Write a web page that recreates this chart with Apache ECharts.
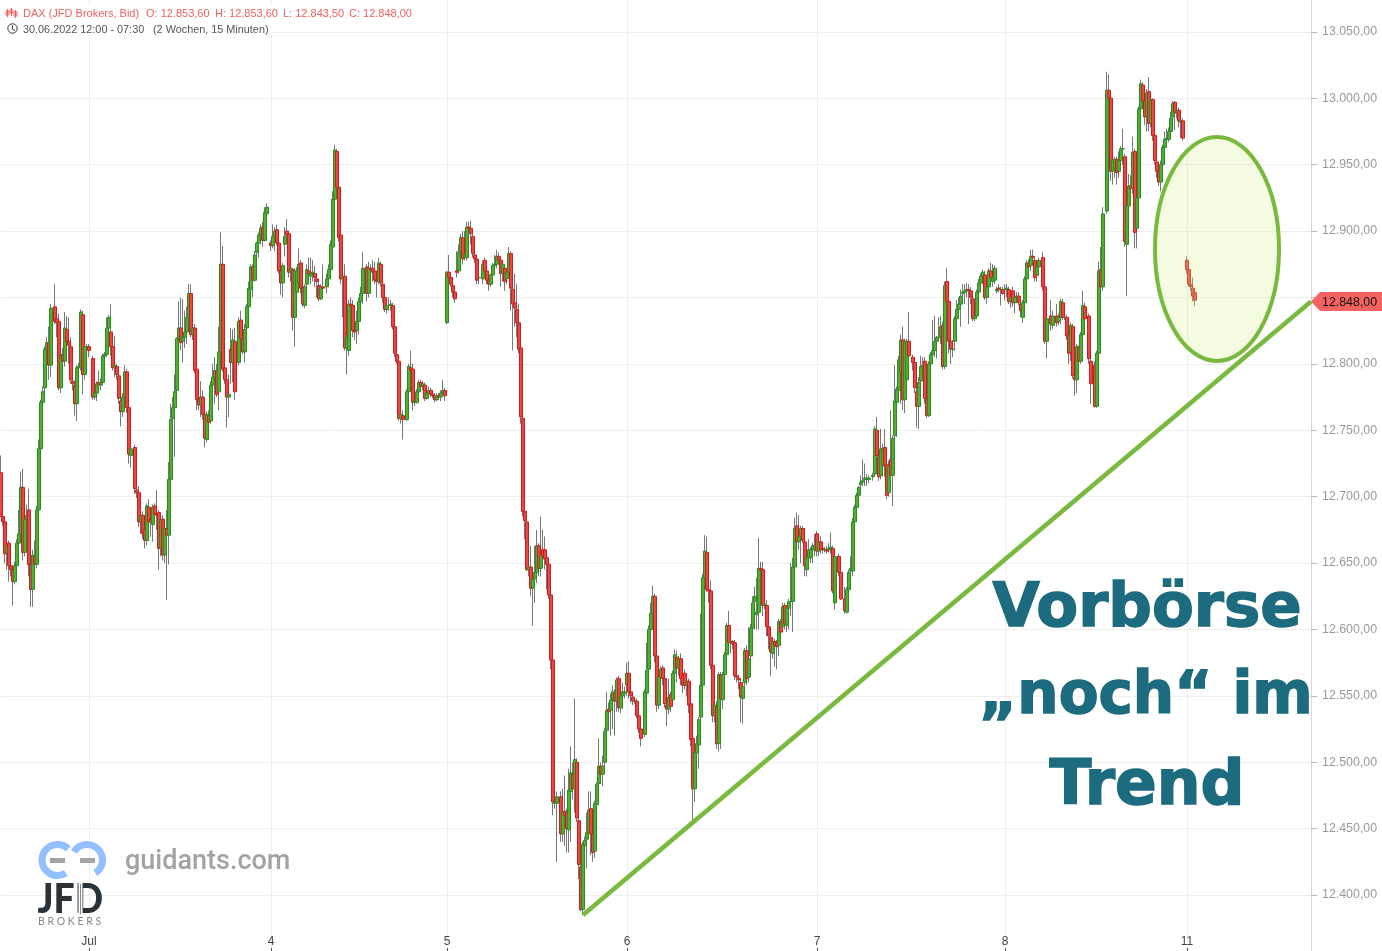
<!DOCTYPE html>
<html><head><meta charset="utf-8">
<style>html,body{margin:0;padding:0;background:#fff;overflow:hidden}#c{width:1382px;height:951px}</style>
<script src="https://cdn.jsdelivr.net/npm/echarts@6/dist/echarts.min.js"></script>
</head><body><div id="c"></div>
<script>
// Candle rows are [open, close, low, high], in points above basePrice.
const basePrice = 12000;
const slotCount = 656;
const dayTicks = {44:'Jul',135:'4',223:'5',313:'6',408:'7',502:'8',593:'11'};
const yTickMin = 12350, yTickMax = 13100, yTickStep = 50;
const lastClose = '12.848,00';
const trendLine = [[291,12385],[655,12847]];

const jun30Jul1 = [[718,685,685,731],[685,681,678,690],[681,657,650,684],[657,663,645,665],[665,648,636,667],[648,645,640,650],[645,636,618,647],[636,648,634,651],[648,665,640,668],[665,672,660,690],[672,707,668,719],[707,658,652,721],[658,683,655,690],[683,686,670,694],[690,649,640,706],[649,630,617,652],[630,656,617,660],[655,649,640,667],[649,690,646,693],[690,736,688,743],[736,771,715,773],[771,779,767,783],[782,811,778,813],[811,816,800,820],[816,799,788,828],[799,842,790,845],null,[843,832,830,860],[834,831,820,842],[832,782,780,838],[782,807,778,809],[807,802,800,812],[802,827,798,839],[826,817,812,836],[817,814,800,835],[813,788,785,820],[787,785,780,792],[784,770,761,787],[770,797,757,799],[797,798,790,801],[797,839,795,841],[837,792,777,840],[792,813,788,816],[813,813,808,815],[813,810,805,815],null,[804,775,773,806],[775,778,773,783],[778,785,772,787],[786,784,782,795],[784,786,780,789],[786,806,784,808],[806,807,800,809],[807,827,805,835],[827,835,825,837],[824,813,806,845],[813,797,795,822],[797,799,790,821],[798,792,788,800],[791,774,770,793],[772,764,753,774],[764,775,760,778],[775,794,772,799],[794,767,763,796],[767,732,725,770],[731,736,722,740],null,[737,706,702,739],[705,703,699,714],[703,681,677,708],[681,686,672,688],[686,672,668,689],[675,667,661,677],[667,693,663,695],[692,681,675,698],[683,681,670,690],[679,692,666,694],[693,687,680,695],[687,686,675,705],[688,661,645,690],[661,683,655,685],[683,656,652,686],[656,676,650,678],[676,671,622,690],[671,713,649,726],[713,758,680,770],[759,767,730,775],[767,779,730,792],[780,819,778,820],[819,827,815,847],[827,816,810,850],[817,820,801,849],[820,824,812,840],[824,835,815,843],[835,853,830,860],[853,822,820,860],[822,827,818,840],[827,795,793,830],[796,773,765,798],[773,769,765,777],[769,775,760,787],[775,762,758,780],[762,744,737,765],[743,762,741,764],[761,756,750,765],[757,784,755,787],[784,790,780,800],[790,795,770,805],[795,777,775,800],[779,809,765,828],[809,875,808,899],[875,796,794,889],[797,788,785,800],[788,775,752,790],[775,777,760,792],[775,808,772,810]];

const jul1Late = [[811,801,785,827],[801,818,786,826],[817,779,773,827],null,[801,832,799,835],[833,819,812,840],[819,809,807,829],[809,826,801,830],[827,843,825,845],[843,857,840,862],[856,873,850,875],[873,863,850,875],[863,882,862,885],[884,891,880,892],[891,897,880,899],[897,902,890,905],[903,893,888,907],[893,914,892,918],[913,918,893,921]];

const jul4 = [[891,889,885,893],[889,896,887,905],[896,900,885,903],[901,891,889,905],[891,870,868,893],[870,861,852,873],[861,874,850,876],[890,896,881,903],[900,897,893,909],[898,869,865,900],[869,872,862,875],[871,835,825,872],[835,870,813,872],[854,870,848,873],[861,875,855,887],[876,857,853,878],[858,845,843,860],[844,858,842,860],[860,871,855,875],[870,868,862,880],[866,868,860,880],[868,869,862,878],[868,865,858,874],[864,862,850,868],[859,849,847,862],[849,858,848,860],[858,857,855,875],null,[858,864,853,868],[864,871,860,875],[871,890,870,893],[888,924,886,930],[924,961,920,965],[960,933,930,962],[933,895,892,935],[897,864,860,922],[864,866,835,877],[866,812,810,875],[812,820,792,825],[810,845,806,848],[845,844,820,850],[844,825,820,848],[825,824,818,828],[825,832,815,840],[832,847,822,850],[847,853,840,858],[853,872,845,884],null,[873,853,847,875],[853,872,850,877],[872,871,858,875],[872,869,862,878],[870,863,860,877],[863,862,850,870],[862,876,860,880],[875,861,858,877],[860,850,846,866],[850,841,839,852],[841,844,838,848],[844,844,840,850],[844,845,840,848],[844,828,826,846],[828,808,805,830],[807,802,800,815],[802,759,757,804],[759,762,755,768],[761,758,743,765],null,[758,779,757,781],[779,798,777,800],[797,795,790,810],[796,771,765,800],[771,772,768,775],[771,779,770,781],[779,786,777,788],[786,783,780,788],[783,785,780,787],[784,774,772,786],[774,778,773,782],[778,780,775,783],[780,777,775,782],[777,776,774,778],[776,773,771,778],[773,776,772,778],[776,775,773,778],[775,778,772,780],[778,780,776,788],[780,776,772,782],[776,784,775,786]];

const jul5 = [[831,869,830,870],[869,865,860,882],[865,860,858,868],[859,854,850,862],[854,849,846,858],[870,869,865,885],[870,884,868,890],[884,895,880,898],[895,879,875,900],[880,882,878,900],[880,903,878,907],[903,902,895,907],[902,898,890,908],[896,883,880,900],[882,879,876,885],[879,863,860,882],[865,865,860,868],null,[864,875,860,878],[878,870,866,880],[870,863,860,875],[863,860,855,866],[860,867,858,868],[867,874,862,876],[874,875,870,882],[875,881,872,886],[881,878,875,884],[878,868,858,880],[868,875,862,877],[872,862,855,874],[864,869,860,872],[869,883,866,888],[883,857,840,885],[856,845,810,858],[846,842,828,868],[841,831,820,860],[831,811,808,845],[812,760,755,824],[759,689,685,760],[689,682,668,706],[681,645,644,683],[645,647,640,663],[647,631,625,663],[631,638,603,640],[638,643,620,663],[643,663,635,675],[663,646,640,665],[646,656,640,685],[660,655,648,675],[660,653,645,670],[654,649,630,657],[649,626,623,652],[626,577,570,628],[577,470,460,582],[469,470,465,472],[469,474,425,478],null,[474,446,440,478],[446,463,440,480],[463,460,437,490],[462,450,432,465],[449,479,432,495],[478,492,440,512],[491,480,472,500],[480,502,462,548],[500,458,455,503],[456,423,412,458],[421,389,388,423],[389,438,385,440],[437,441,425,444],[442,447,420,462],[447,464,445,478],[465,446,430,478],[446,432,425,448],[433,469,428,471],[468,483,460,485],[484,497,470,518],[497,491,484,500],[491,497,482,505],[500,523,492,526],[524,539,515,553],[540,538,530,545],[539,547,520,552],[547,553,525,558],[552,546,520,555],[546,562,538,564],[563,541,538,565]];

const jul6 = [[541,550,537,555],[550,553,540,560],[552,553,548,557],[558,567,550,575],[567,553,548,576],[553,550,545,556],[549,546,543,552],[546,546,544,549],[546,535,533,548],[535,525,522,537],[525,518,512,527],null,[521,553,519,555],[552,569,548,590],[570,600,567,603],[600,612,590,620],[612,625,600,633],[625,580,575,627],[580,543,538,585],[543,564,540,567],[564,570,560,572],[571,563,558,573],[563,544,541,565],[543,540,527,557],[540,549,536,563],[551,542,538,553],[547,567,545,569],[567,581,565,585],[579,571,560,584],[571,578,565,580],[578,563,558,582],[565,558,552,575],[567,558,555,570],[558,561,550,563],[561,543,537,563],[544,517,512,547],[518,480,455,525],[480,507,470,510],[507,514,495,520],[513,532,495,534],[534,558,530,612],[558,639,555,642],[639,659,620,671],[658,630,628,670],[630,629,620,635],[629,573,570,637],[573,535,530,582],[535,543,530,550],[542,514,510,546],[514,566,508,568],[566,548,510,568],[547,566,540,568],[566,581,555,583],[581,603,575,605],[603,590,585,614],[590,591,582,594],[591,589,585,592],[590,565,562,592],[565,564,560,567],[563,562,555,566],[560,549,530,563],[548,557,529,559],[560,584,555,586],[584,563,558,588],[564,578,560,602],[580,601,568,604],[601,620,590,625],[621,625,600,632],[611,613,600,639],[613,646,600,669],[646,645,625,651],[645,618,610,651],[618,619,615,628],[618,602,595,622],[602,595,585,605],[594,583,565,597],[582,591,578,593],[591,588,572,593],[590,587,570,592],[588,606,580,608],[606,598,592,608],[602,617,598,620],[618,604,600,620],[603,616,598,618],[616,621,600,623],[621,621,610,650],[621,647,598,654],[647,676,640,684],[678,666,650,688],[666,670,660,686],[670,676,650,678],[676,667,665,678],[666,648,640,668],[645,654,640,656],[654,660,650,668],[654,660,650,662],[660,663,650,665],[660,663,655,672],[672,659,655,674],[659,666,655,668],[666,660,657,670],[661,660,657,664],[660,660,658,662],[660,659,657,663],[660,661,658,665],[661,662,657,673],[661,629,627,663],[620,655,615,657],null,[655,643,640,657],[643,623,622,645],null,[623,614,612,632],[613,630,612,632],[630,643,628,645],[644,646,640,655],[644,681,640,684]];

const jul7 = [[681,692,678,694],[692,701,690,703],[701,707,695,708],[709,711,704,716],[711,712,708,728],[713,714,708,725],[713,714,708,717],[713,714,710,716],null,[715,716,712,718],[717,751,715,753],[750,731,729,760],[730,715,712,732],[716,736,713,751],[724,736,715,740],[737,723,715,751],[724,701,698,726],[703,723,700,727],[728,716,714,765],[716,744,693,746],[746,772,720,799],[771,781,745,783],[780,803,778,806],[794,818,770,822],[818,773,765,828],[773,817,763,819],[788,817,775,819],[817,806,800,839],null,[805,801,795,807],[801,782,778,805],[779,768,752,785],[768,786,751,790],[787,798,785,806],[797,799,790,805],[802,774,770,805],[774,761,759,776],[761,800,760,802],[800,807,792,809],[807,810,800,833],[810,817,805,836],[817,820,804,821],[820,820,818,835],[820,828,815,836],[829,798,796,832],[798,859,796,862],[862,847,845,872],[847,817,808,850],[817,811,800,820],[811,811,805,818],[817,834,810,836],[834,841,828,848],[841,845,835,850],[845,851,828,856],[853,854,847,860],[854,855,845,860],[855,856,850,861],[856,855,830,860],[855,850,845,858],[849,834,832,852],[834,836,832,838],[836,854,834,856],[854,861,852,864],[861,866,855,868],[866,869,860,871],[867,850,848,870],[850,858,845,860],[858,870,855,872],[870,865,860,876],[862,865,858,875],[863,872,860,874]];

const jul8 = [[855,856,853,858],[857,856,854,860],[856,856,844,858],[856,853,852,858],[856,856,848,860],[856,857,850,860],[856,847,845,858],[847,850,842,855],[855,846,843,858],[846,850,838,852],[850,851,846,854],[851,846,844,854],[845,840,835,848],[835,846,831,848],[846,864,844,866],[864,876,860,878],[876,873,870,879],[874,881,870,886],[881,880,877,886],[878,865,862,880],[867,873,862,875],[873,878,866,880],null,[880,858,855,884],[858,817,815,860],[817,834,804,836],null,[836,830,825,848],[829,836,826,840],null,[836,831,828,845],[832,835,829,838],[835,847,830,849],[846,835,833,849],[835,835,833,837],[835,821,818,837],[822,808,800,824],[809,829,802,831],[828,791,789,830],[790,788,776,793],[788,813,778,815],[812,802,798,814],[802,822,800,824],[822,844,820,855],[843,834,830,846],null,[836,804,800,838],[802,785,770,820],null,[799,768,767,802],[768,808,767,810],[808,870,806,877],[871,858,850,888],[858,913,855,918]];

const jul8Late = [[915,1006,913,1020],[1006,1000,996,1018],[1000,945,938,1002],[945,954,935,957],[946,954,940,956],[954,944,935,956],[945,953,940,960],[953,962,945,964],[962,962,950,977],[956,892,888,958],[890,919,851,921],[919,934,915,943],[934,932,928,942],[932,959,928,971],[960,899,887,962],[902,925,887,932],[925,992,920,994],[992,1011,990,1014],[1010,998,995,1012],[998,986,980,1000],[986,1004,975,1007],[1005,981,975,1016],[981,999,978,1001],[999,972,968,1000],[972,953,950,974],[952,945,940,955],[945,937,934,948],[937,950,930,953],[950,963,948,965],[963,969,960,975],[969,970,965,977],[969,975,967,978],[975,985,973,990],[986,996,983,998],[997,989,976,998],[989,991,985,993],[991,983,978,993],[982,983,970,988],[983,970,968,985]];

const jul11 = [[878,871,868,881],[871,860,858,872],[860,858,855,866],[857,851,847,865],[853.6,848,843.5,853.6]];

const sessions = [[0,jun30Jul1],[115,jul1Late],[135,jul4],[223,jul5],[310,jul6],[427,jul7],[498,jul8],[553,jul8Late],[593,jul11]];

const categories = [];
for (let i=0;i<slotCount;i++) categories.push(dayTicks[i]||('s'+i));
const rows = new Array(slotCount).fill(null);
sessions.forEach(([start,arr])=>arr.forEach((r,i)=>{ if(r) rows[start+i]=r; }));
const EMPTY=['-','-','-','-'];
const wickData = rows.map(r=>r?[r[0]+basePrice,r[1]+basePrice,Math.min(r[0],r[1],r[2])+basePrice,Math.max(r[0],r[1],r[3])+basePrice]:EMPTY);
const bodyData = rows.map(r=>{ if(!r) return EMPTY; const a=r[0]+basePrice,b=r[1]+basePrice; return [a,b,Math.min(a,b),Math.max(a,b)]; });
const trendData = new Array(slotCount).fill(null);
trendLine.forEach(([k,v])=>trendData[k]=v);
const isDay = i=>dayTicks[i]!==undefined;
const fmt = v=>v.toLocaleString('de-DE',{minimumFractionDigits:2,maximumFractionDigits:2});

const RED='#f06060', DARK='#555', SANS='"Liberation Sans",Arial,sans-serif';
const T=(x,y,text,o)=>({type:'text',z:100,silent:true,x,y,style:Object.assign({text,fontFamily:SANS,fontSize:11,verticalAlign:'middle',fill:DARK},o)});
const R=(x,y,w,h,fill,z)=>({type:'rect',z:z||100,silent:true,shape:{x,y,width:w,height:h},style:{fill}});
const BIG='"DejaVu Sans",sans-serif', TEAL='#1c6b7e';
const graphics = [
  R(0,5,272,30,'#ffffff',99),
  // header icons
  R(7,9,1,8,RED),R(11,8,1,8,RED),R(15,10,1,8,RED),
  {type:'rect',z:100,silent:true,shape:{x:6,y:11,width:3,height:4},style:{fill:'none',stroke:RED,lineWidth:1}},
  {type:'rect',z:100,silent:true,shape:{x:10,y:10,width:3,height:3},style:{fill:'none',stroke:RED,lineWidth:1}},
  {type:'rect',z:100,silent:true,shape:{x:14,y:12,width:3,height:4},style:{fill:'none',stroke:RED,lineWidth:1}},
  {type:'circle',z:100,silent:true,shape:{cx:12.5,cy:28.5,r:4.7},style:{fill:'none',stroke:'#333',lineWidth:1}},
  {type:'polyline',z:100,silent:true,shape:{points:[[12.5,25.5],[12.5,29],[15,30.5]]},style:{fill:'none',stroke:'#333',lineWidth:1}},
  T(23,13.5,'DAX (JFD Brokers, Bid)',{fill:RED}),
  T(146,13.5,'O: 12.853,60',{fill:RED}),
  T(215,13.5,'H: 12.853,60',{fill:RED}),
  T(283,13.5,'L: 12.843,50',{fill:RED}),
  T(349,13.5,'C: 12.848,00',{fill:RED}),
  T(23,29.5,'30.06.2022 12:00 - 07:30',{fill:'#555',fontSize:10.85}),
  T(153,29.5,'(2 Wochen, 15 Minuten)',{fill:'#555',fontSize:10.85}),
  // highlight ellipse
  {type:'ellipse',z:50,silent:true,shape:{cx:1217,cy:249,rx:62,ry:112},style:{fill:'rgba(215,240,130,0.25)',stroke:'#78b93e',lineWidth:4}},
  // last price tag
  {type:'polygon',z:100,silent:true,shape:{points:[[1311,301.5],[1320,292],[1382,292],[1382,311],[1320,311]]},style:{fill:'#f56262'}},
  T(1322,302.5,lastClose,{fill:'#111',fontSize:12.4}),
  // annotation
  {type:'text',z:100,silent:true,x:1147,y:610,style:{text:'Vorbörse',fontFamily:BIG,fontWeight:'bold',fontSize:61,fill:TEAL,align:'center',verticalAlign:'middle',stroke:TEAL,lineWidth:1.5}},
  {type:'text',z:100,silent:true,x:1146,y:698,style:{text:'„noch“ im',fontFamily:BIG,fontWeight:'bold',fontSize:58,fill:TEAL,align:'center',verticalAlign:'middle',stroke:TEAL,lineWidth:1.5}},
  {type:'text',z:100,silent:true,x:1147,y:788,style:{text:'Trend',fontFamily:BIG,fontWeight:'bold',fontSize:61.5,fill:TEAL,align:'center',verticalAlign:'middle',stroke:TEAL,lineWidth:1.5}},
  // logos
  {type:'arc',z:100,silent:true,shape:{cx:57.5,cy:860,r:15.5,startAngle:-0.8,endAngle:1.0,clockwise:false},style:{fill:'none',stroke:'#93bfff',lineWidth:7}},
  {type:'arc',z:100,silent:true,shape:{cx:87,cy:860,r:15.5,startAngle:3.7,endAngle:1.0,clockwise:true},style:{fill:'none',stroke:'#93bfff',lineWidth:7}},
  R(50,858,15,5,'#a3a3a3'),R(80,858,15,5,'#a3a3a3'),
  T(125,862,'guidants.com',{fontFamily:'Roboto,sans-serif',fontWeight:500,fontSize:27,fill:'#a3a3a3'}),
  Object.assign(T(37.5,900,'JFD',{fontFamily:'Lato,sans-serif',fontWeight:900,fontSize:41,fill:'#2a3238'}),{scaleX:0.91}),
  R(78.5,883,4,32,'#ffffff'),R(80,884,1,30,'#888888'),
  T(38,922,'B R O K E R S',{fontFamily:'Lato,sans-serif',fontSize:10.5,fill:'#888888'})
];

const chart = echarts.init(document.getElementById('c'),null,{renderer:'canvas'});
chart.setOption({
  animation:false,
  backgroundColor:'#ffffff',
  grid:{left:1,width:1310,top:-34.5,height:995.9,outerBoundsMode:'none',containLabel:false},
  xAxis:{type:'category',data:categories,boundaryGap:false,offset:-13.4,
    axisLine:{show:false},
    axisTick:{show:true,length:3,interval:isDay,lineStyle:{color:'#555',width:1}},
    axisLabel:{show:true,inside:true,interval:isDay,margin:0,color:'#444',fontSize:12,fontFamily:SANS,overflow:'none',formatter:(v,i)=>dayTicks[i]||''},
    splitLine:{show:true,interval:isDay,lineStyle:{color:'#eeeeee',width:1}}},
  yAxis:{type:'value',position:'right',min:yTickMin,max:yTickMax,interval:yTickStep,scale:true,
    axisLine:{show:true,lineStyle:{color:'#d9d9d9',width:1}},
    axisTick:{show:true,length:6,lineStyle:{color:'#bbbbbb',width:1}},
    axisLabel:{color:'#999999',fontSize:12.4,fontFamily:SANS,margin:11,padding:[4,0,0,0],formatter:fmt},
    splitLine:{show:true,lineStyle:{color:'#eeeeee',width:1}}},
  series:[
    {type:'candlestick',name:'wick',data:wickData,barWidth:1,z:2,silent:true,large:false,progressive:0,
      itemStyle:{color:'#777777',color0:'#777777',borderColor:'#777777',borderColor0:'#777777',borderWidth:1}},
    {type:'candlestick',name:'body',data:bodyData,barWidth:3,z:3,silent:true,large:false,progressive:0,
      itemStyle:{color:'#4fb02a',color0:'#ee4444',borderColor:'#2c8a2e',borderColor0:'#c8201f',borderWidth:1}},
    {type:'line',name:'trend',data:trendData,connectNulls:true,showSymbol:false,symbol:'none',z:4,silent:true,
      lineStyle:{color:'#78b93e',width:4.5}}
  ],
  graphic:graphics
});
</script></body></html>
